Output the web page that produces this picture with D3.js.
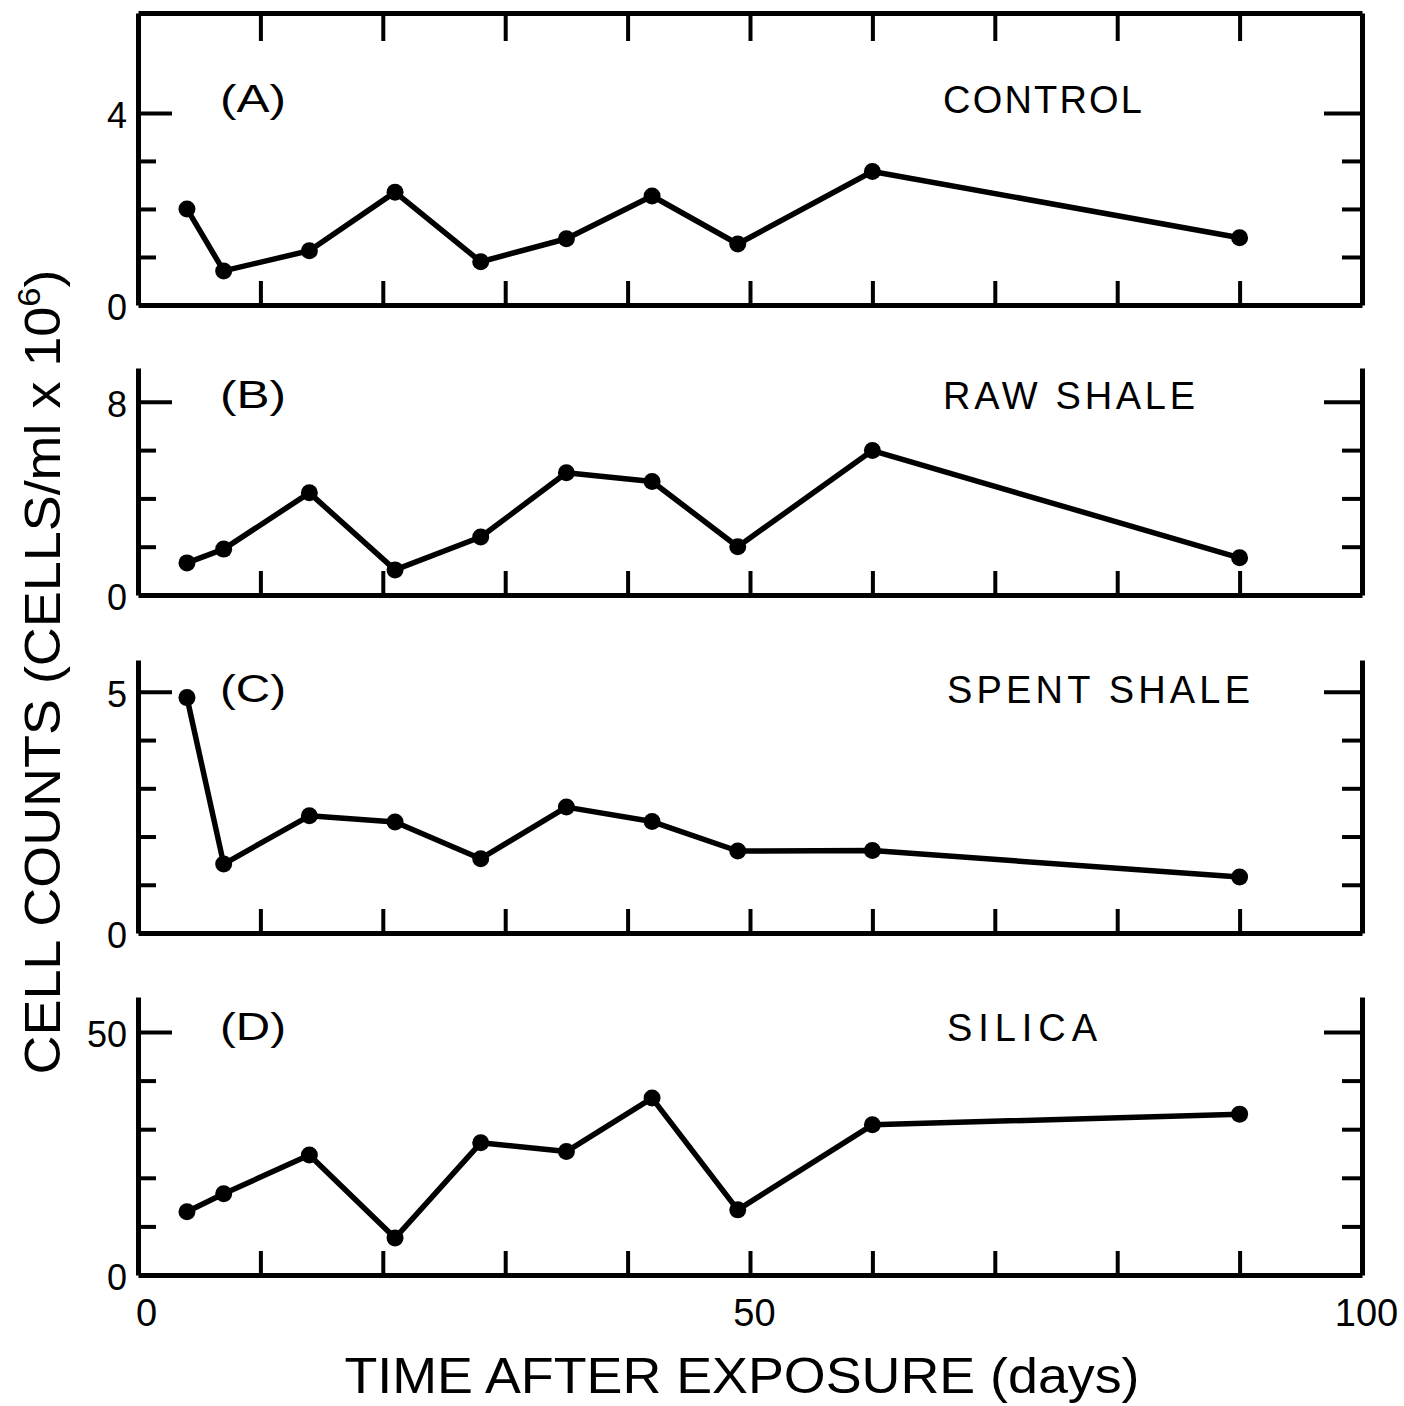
<!DOCTYPE html>
<html>
<head>
<meta charset="utf-8">
<script src="https://cdn.jsdelivr.net/npm/d3@7"></script>
<style>
  body { margin: 0; background: #fff; }
  text { font-family: "Liberation Sans", Arial, sans-serif; fill: #000; }
</style>
</head>
<body>
<script>
const width = 1404;
const height = 1406;

// sampling days, shared by all four panels
const days = [4, 7, 14, 21, 28, 35, 42, 49, 60, 90];

// cell counts (cells/ml x 10^6)
const control    = [2.0, 0.71, 1.13, 2.35, 0.9, 1.38, 2.27, 1.27, 2.78, 1.4];
const rawShale   = [1.33, 1.9, 4.23, 1.04, 2.4, 5.06, 4.7, 2.0, 5.98, 1.54];
const spentShale = [4.88, 1.43, 2.43, 2.3, 1.54, 2.61, 2.31, 1.7, 1.71, 1.16];
const silica     = [13.0, 16.7, 24.7, 7.6, 27.2, 25.4, 36.4, 13.4, 30.9, 33.1];

const series = [control, rawShale, spentShale, silica];
const panelLetters = ["(A)", "(B)", "(C)", "(D)"];
const panelNames = ["CONTROL", "RAW SHALE", "SPENT SHALE", "SILICA"];

// y axis: labelled tick, minor step, top of axis
const yLabelTicks = [4, 8, 5, 50];
const yMinorStep = [1, 2, 1, 10];
const yTop = [6.08, 9.4, 5.66, 57.2];

// x axis ticks
const xTicks = [10, 20, 30, 40, 50, 60, 70, 80, 90];
const xTickLabels = [0, 50, 100];

// layout of the four panels
const panelBottom = [305, 595, 933, 1275];
const panelTopPx = [13, 368, 660, 997];
const letterBase = [112, 408, 702, 1040];
const nameX = [943, 943, 947, 947];
const nameLen = [199, 252, 303, 150];

let svg = d3.select("body")
    .append("svg")
    .attr("width", width)
    .attr("height", height)

const x = d3.scaleLinear().domain([0, 100]).range([138, 1362]);

function styleAxis(sel) {
    sel.select(".domain").attr("stroke", "#000").attr("stroke-width", 5);
    sel.selectAll(".tick line").attr("stroke", "#000").attr("stroke-width", 4);
    sel.selectAll(".tick text").attr("fill", "#000").attr("font-family", "Liberation Sans, Arial, sans-serif");
}

series.forEach((values, i) => {
    const y = d3.scaleLinear()
        .domain([0, yTop[i]])
        .range([panelBottom[i], panelTopPx[i]]);
    const g = svg.append("g");

    const yTicks = d3.range(0, yLabelTicks[i] + 0.001, yMinorStep[i]);
    const isMajor = d => d === yLabelTicks[i];

    // left axis
    const left = g.append("g")
        .attr("transform", `translate(${x(0)},0)`)
        .call(d3.axisLeft(y).tickValues(yTicks).tickSizeInner(-18).tickSizeOuter(0)
            .tickPadding(11).tickFormat(d => (d === 0 || isMajor(d)) ? d : ""));
    left.selectAll(".tick line").attr("x2", d => d === 0 ? 0 : isMajor(d) ? 34 : 18);
    left.selectAll(".tick text").attr("font-size", 36).attr("dy", "0.4em");
    styleAxis(left);

    // right axis
    const right = g.append("g")
        .attr("transform", `translate(${x(100)},0)`)
        .call(d3.axisRight(y).tickValues(yTicks).tickSizeInner(-20).tickSizeOuter(0).tickFormat(""));
    right.selectAll(".tick line").attr("x2", d => d === 0 ? 0 : isMajor(d) ? -38 : -20);
    styleAxis(right);

    // bottom axis, labels only on the last panel
    const last = i === series.length - 1;
    const bottomTicks = last ? [0].concat(xTicks, [100]) : xTicks;
    const bottom = g.append("g")
        .attr("transform", `translate(0,${panelBottom[i]})`)
        .call(d3.axisBottom(x).tickValues(bottomTicks)
            .tickSizeInner(-24).tickSizeOuter(0).tickPadding(24)
            .tickFormat(d => last && xTickLabels.includes(d) ? d : ""));
    bottom.selectAll(".tick line").attr("y2", d => (d === 0 || d === 100) ? 0 : -24);
    bottom.selectAll(".tick text").attr("font-size", 38).attr("dx", d => d === 0 ? 8 : 4);
    styleAxis(bottom);

    // top frame only on the first panel
    if (i === 0) {
        const top = g.append("g")
            .attr("transform", `translate(0,${panelTopPx[i]})`)
            .call(d3.axisTop(x).tickValues(xTicks).tickSizeInner(-28).tickSizeOuter(0).tickFormat(""));
        styleAxis(top);
    }

    // data line and dots
    const pts = days.map((d, k) => [d, values[k]]);
    g.append("path")
        .datum(pts)
        .attr("fill", "none")
        .attr("stroke", "#000")
        .attr("stroke-width", 5.5)
        .attr("stroke-linejoin", "round")
        .attr("d", d3.line().x(d => x(d[0])).y(d => y(d[1])));
    g.selectAll("circle")
        .data(pts)
        .join("circle")
        .attr("cx", d => x(d[0]))
        .attr("cy", d => y(d[1]))
        .attr("r", 8.5)
        .attr("fill", "#000");

    // panel letter and name
    g.append("text")
        .attr("x", 220)
        .attr("y", letterBase[i])
        .attr("font-size", 38)
        .attr("textLength", 66)
        .attr("lengthAdjust", "spacingAndGlyphs")
        .text(panelLetters[i]);
    g.append("text")
        .attr("x", nameX[i])
        .attr("y", letterBase[i] + 1)
        .attr("font-size", 38)
        .attr("textLength", nameLen[i])
        .attr("lengthAdjust", "spacing")
        .text(panelNames[i]);
});

// x title
svg.append("text")
    .attr("x", 742)
    .attr("y", 1393)
    .attr("text-anchor", "middle")
    .attr("font-size", 50)
    .attr("textLength", 795)
    .attr("lengthAdjust", "spacingAndGlyphs")
    .text("TIME AFTER EXPOSURE (days)");

// y title, rotated
const yTitle = svg.append("text")
    .attr("transform", "translate(60,672) rotate(-90)")
    .attr("text-anchor", "middle")
    .attr("font-size", 50)
    .attr("textLength", 805)
    .attr("lengthAdjust", "spacingAndGlyphs");
yTitle.append("tspan").text("CELL COUNTS (CELLS/ml x 10");
yTitle.append("tspan").attr("font-size", 32).attr("dy", -20).text("6");
yTitle.append("tspan").attr("dy", 20).text(")");
</script>
</body>
</html>
